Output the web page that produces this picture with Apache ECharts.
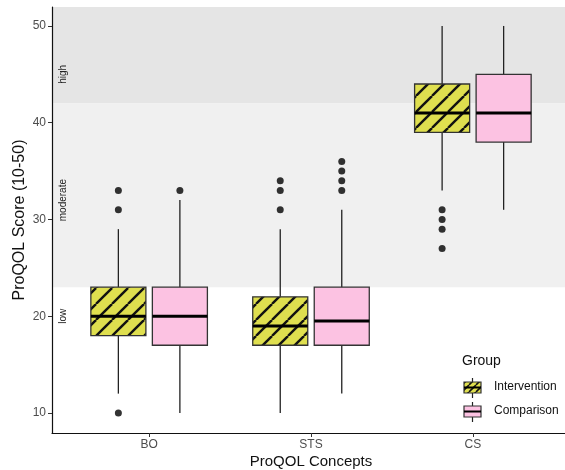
<!DOCTYPE html>
<html>
<head>
<meta charset="utf-8">
<script src="https://cdn.jsdelivr.net/npm/echarts@6/dist/echarts.min.js"></script>
<style>
html,body{margin:0;padding:0;background:#fff;}
#chart{width:565px;height:470px;}
</style>
</head>
<body>
<div id="chart"></div>
<script>
const categories = ['BO', 'STS', 'CS'];
const groups = ['Intervention', 'Comparison'];
// whisker low, Q1, median, Q3, whisker high per category
const interventionBox = [[12, 18, 20, 23, 29], [10, 17, 19, 22, 29], [33, 39, 41, 44, 50]];
const comparisonBox = [[10, 17, 20, 23, 32], [12, 17, 19.5, 23, 31], [31, 38, 41, 45, 50]];
// [category index, value]
const interventionOutliers = [[0, 10], [0, 31], [0, 33], [1, 31], [1, 33], [1, 34], [2, 27], [2, 29], [2, 30], [2, 31]];
const comparisonOutliers = [[0, 33], [1, 33], [1, 34], [1, 35], [1, 36]];
const yTicks = [10, 20, 30, 40, 50];
const xTicks = [1, 2, 3];
// bands: [lower, upper, label, label value]
const bandLabels = ['low', 'moderate', 'high'];
const bandBounds = [[-100, 23], [23, 42], [42, 100]];
const bandLabelValues = [20, 32, 45];

const FONT = 'Liberation Sans, Arial, Helvetica, sans-serif';
const YELLOW = '#DFDF4F';
const PINK = '#FCC2E2';
const DODGE = 0.19;
const BOXW = 0.34;

function makeHatch(s, lw) {
  const c = document.createElement('canvas');
  c.width = s; c.height = s;
  const g = c.getContext('2d');
  g.fillStyle = YELLOW;
  g.fillRect(0, 0, s, s);
  g.strokeStyle = '#111';
  g.lineWidth = lw;
  for (const k of [-s, 0, s]) {
    g.beginPath();
    g.moveTo(k, s);
    g.lineTo(k + s, 0);
    g.stroke();
  }
  return c;
}
const hatch = { image: makeHatch(16, 2.4), repeat: 'repeat' };
const hatchSmall = { image: makeHatch(7, 1.6), repeat: 'repeat' };

const bandColors = ['rgba(0,0,0,0)', '#F0F0F0', '#E5E5E5'];
const bandData = bandLabels.map((l, i) => [bandBounds[i][0], bandBounds[i][1], bandLabelValues[i], i]);

function bandRender(params, api) {
  const cs = params.coordSys;
  const i = api.value(3);
  const lo = Math.max(api.value(0), 7.93);
  const hi = Math.min(api.value(1), 51.96);
  const pLo = api.coord([1, lo]);
  const pHi = api.coord([1, hi]);
  const pl = api.coord([0.47, api.value(2)]);
  return {
    type: 'group',
    children: [
      { type: 'rect', shape: { x: cs.x, y: pHi[1], width: cs.width + 10, height: pLo[1] - pHi[1] },
        style: { fill: bandColors[i] } },
      { type: 'text', x: pl[0], y: pl[1], rotation: Math.PI / 2,
        style: { text: bandLabels[i], fontSize: 10, fontFamily: FONT, fill: '#222', align: 'center', verticalAlign: 'middle' } }
    ]
  };
}

function boxRender(fill, dx) {
  return function (params, api) {
    const c = api.value(0) + 1 + dx;
    const pMin = api.coord([c, api.value(1)]);
    const pQ1 = api.coord([c, api.value(2)]);
    const pMed = api.coord([c, api.value(3)]);
    const pQ3 = api.coord([c, api.value(4)]);
    const pMax = api.coord([c, api.value(5)]);
    const hw = api.size([BOXW, 0])[0] / 2;
    const x = pMin[0];
    const ls = { stroke: '#222', lineWidth: 1.3 };
    return {
      type: 'group',
      children: [
        { type: 'line', shape: { x1: x, y1: pMax[1], x2: x, y2: pQ3[1] }, style: ls },
        { type: 'line', shape: { x1: x, y1: pQ1[1], x2: x, y2: pMin[1] }, style: ls },
        { type: 'rect', shape: { x: x - hw, y: pQ3[1], width: 2 * hw, height: pQ1[1] - pQ3[1] },
          style: { fill: fill, stroke: '#333', lineWidth: 1.3 } },
        { type: 'line', shape: { x1: x - hw, y1: pMed[1], x2: x + hw, y2: pMed[1] },
          style: { stroke: '#000', lineWidth: 3 } }
      ]
    };
  };
}

const chart = echarts.init(document.getElementById('chart'), null, { renderer: 'canvas' });

const option = {
  animation: false,
  backgroundColor: '#fff',
  grid: { left: 52, right: -5, top: 7, bottom: 37, containLabel: false, outerBoundsMode: 'none' },
  xAxis: {
    type: 'value', min: 0.4, max: 3.6,
    name: 'ProQOL Concepts', nameLocation: 'middle', nameGap: 21, nameMoveOverlap: false,
    nameTextStyle: { fontSize: 15, color: '#111', fontFamily: FONT },
    axisLine: { show: true, lineStyle: { color: '#111', width: 1.2 } },
    axisTick: { show: true, customValues: xTicks, length: 4, lineStyle: { color: '#333' } },
    axisLabel: { customValues: xTicks, formatter: v => categories[Math.round(v) - 1] || '',
      fontSize: 12, color: '#4d4d4d', fontFamily: FONT, margin: 6 },
    splitLine: { show: false }
  },
  yAxis: {
    type: 'value', min: 7.93, max: 51.96,
    name: 'ProQOL Score (10-50)', nameLocation: 'middle', nameGap: 24, nameMoveOverlap: false,
    nameTextStyle: { fontSize: 16, color: '#111', fontFamily: FONT },
    axisLine: { show: true, lineStyle: { color: '#111', width: 1.2 } },
    axisTick: { show: true, customValues: yTicks, length: 4, lineStyle: { color: '#333' } },
    axisLabel: { customValues: yTicks, fontSize: 12, color: '#4d4d4d', fontFamily: FONT, margin: 6 },
    splitLine: { show: false }
  },
  series: [
    { type: 'custom', name: 'bands', renderItem: bandRender, data: bandData, z: 0, silent: true,
      encode: { x: -1, y: [0, 1] }, clip: true },
    { type: 'custom', name: groups[0], renderItem: boxRender(hatch, -DODGE),
      data: interventionBox.map((b, i) => [i].concat(b)), encode: { x: 0, y: [1, 2, 3, 4, 5] }, z: 2 },
    { type: 'custom', name: groups[1], renderItem: boxRender(PINK, DODGE),
      data: comparisonBox.map((b, i) => [i].concat(b)), encode: { x: 0, y: [1, 2, 3, 4, 5] }, z: 2 },
    { type: 'scatter', symbol: 'circle', symbolSize: 7, itemStyle: { color: '#000' }, z: 3,
      data: interventionOutliers.map(d => [d[0] + 1 - DODGE, d[1]]) },
    { type: 'scatter', symbol: 'circle', symbolSize: 7, itemStyle: { color: '#000' }, z: 3,
      data: comparisonOutliers.map(d => [d[0] + 1 + DODGE, d[1]]) }
  ],
  graphic: [
    { type: 'text', left: 462, top: 354, style: { text: 'Group', fontSize: 14, fill: '#111', fontFamily: FONT } },
    { type: 'line', shape: { x1: 472.5, y1: 378, x2: 472.5, y2: 398 }, style: { stroke: '#222', lineWidth: 1.2 } },
    { type: 'rect', shape: { x: 464, y: 382, width: 17, height: 11 }, style: { fill: hatchSmall, stroke: '#333', lineWidth: 1.2 } },
    { type: 'line', shape: { x1: 464, y1: 387.5, x2: 481, y2: 387.5 }, style: { stroke: '#000', lineWidth: 2 } },
    { type: 'line', shape: { x1: 472.5, y1: 402, x2: 472.5, y2: 422 }, style: { stroke: '#222', lineWidth: 1.2 } },
    { type: 'rect', shape: { x: 464, y: 406, width: 17, height: 11 }, style: { fill: PINK, stroke: '#333', lineWidth: 1.2 } },
    { type: 'line', shape: { x1: 464, y1: 411.5, x2: 481, y2: 411.5 }, style: { stroke: '#000', lineWidth: 2 } },
    { type: 'text', left: 494, top: 381, style: { text: groups[0], fontSize: 12, fill: '#111', fontFamily: FONT } },
    { type: 'text', left: 494, top: 405, style: { text: groups[1], fontSize: 12, fill: '#111', fontFamily: FONT } }
  ]
};
chart.setOption(option);
</script>
</body>
</html>
